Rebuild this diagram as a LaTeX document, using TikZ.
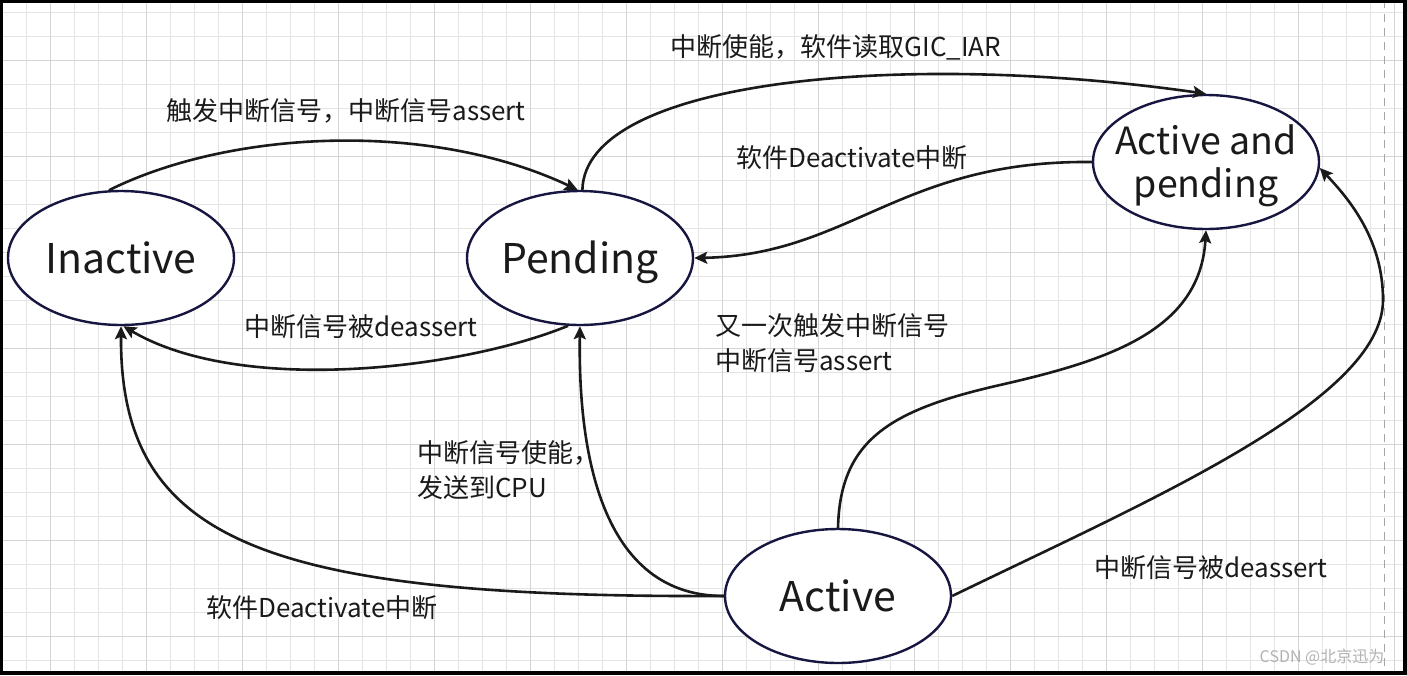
\documentclass[tikz,border=0pt]{standalone}
\usepackage{fontspec}
\setmainfont{Noto Sans CJK SC}
\usepackage{xcolor}
\usetikzlibrary{shapes.geometric,arrows.meta}
\definecolor{navy}{RGB}{22,22,64}
\definecolor{ink}{RGB}{26,26,26}
\definecolor{gridminor}{RGB}{228,228,228}
\definecolor{gridmajor}{RGB}{212,212,212}

\begin{document}
\begin{tikzpicture}[x=1pt,y=-1pt,
  state/.style={ellipse,draw=navy,line width=2.4pt,fill=white,minimum width=226pt,minimum height=134pt,inner xsep=-30pt,inner ysep=-25pt,text=ink,font=\fontsize{41}{48}\selectfont,text height=30pt,text depth=0pt},
  lbl/.style={text=ink,font=\fontsize{26}{35}\selectfont,inner sep=0pt},
  edge/.style={draw=ink,line width=2.6pt,-{Stealth[length=13pt,width=12pt,inset=2.5pt]}}]
  \useasboundingbox(0,0) rectangle (1407,675);
  \fill[white](0,0) rectangle (1407,675);
  \foreach \i in {0,...,58} \draw[gridminor,line width=0.8pt](2+24*\i,0) -- (2+24*\i,675);
  \foreach \i in {0,...,27} \draw[gridminor,line width=0.8pt](0,12.5+24*\i) -- (1407,12.5+24*\i);
  \foreach \i in {0,...,14} \draw[gridmajor,line width=0.8pt](50+96*\i,0) -- (50+96*\i,675);
  \foreach \i in {0,...,6} \draw[gridmajor,line width=0.8pt](0,60.5+96*\i) -- (1407,60.5+96*\i);
  \draw[gray!70,line width=1pt,dash pattern=on 8pt off 6pt](1384,0) -- (1384,675);
  \draw[line width=3.5pt](1.5,1.5) rectangle (1405,673);

  \node[lbl](trig) at (346,111) {触发中断信号，中断信号assert};
  \node[lbl](enrd) at (836,47) {中断使能，软件读取GIC\_IAR};
  \node[lbl](deact) at (852,158) {软件Deactivate中断};
  \node[lbl](deas) at (361,327) {中断信号被deassert};
  \node[lbl,anchor=west,align=left](again) at (715,343) {又一次触发中断信号\\中断信号assert};
  \node[lbl,anchor=west,align=left](send) at (417,470) {中断信号使能，\\发送到CPU};
  \node[lbl](deactb) at (322,608) {软件Deactivate中断};
  \node[lbl](deasb) at (1211,568) {中断信号被deassert};
  \node[text=gray!60,font=\fontsize{16}{18}\selectfont,inner sep=0pt](mark) at (1322,657) {CSDN @北京迅为};

  \node[state](ina) at (121,258) {Inactive};
  \node[state](pen) at (580,258) {Pending};
  \node[state,font=\fontsize{37.5}{43}\selectfont,text height=27pt,text depth=43pt](anp) at (1206,162) {\begin{tabular}[t]{@{}c@{}}Active and\\pending\end{tabular}};
  \node[state](act) at (838,596) {Active};

  \draw[edge](ina.100) .. controls (230,130) and (430,120) .. (pen.92);
  \draw[edge](pen.88) .. controls (585,80) and (900,50) .. (anp.north);
  \draw[edge](anp.west) .. controls (900,160) and (850,255) .. (pen.east);
  \draw[edge](pen.260) .. controls (460,370) and (240,395) .. (ina.272);
  \draw[edge](act.west) .. controls (260,598) and (120,540) .. (ina.south);
  \draw[edge](act.west) .. controls (600,596) and (578,450) .. (pen.south);
  \draw[edge](act.north) .. controls (840,440) and (890,410) .. (1000,385) .. controls (1110,360) and (1200,330) .. (anp.south);
  \draw[edge](act.east) .. controls (1150,500) and (1383,400) .. (1383,300) .. controls (1383,240) and (1350,200) .. (anp.357);
\end{tikzpicture}
\end{document}
